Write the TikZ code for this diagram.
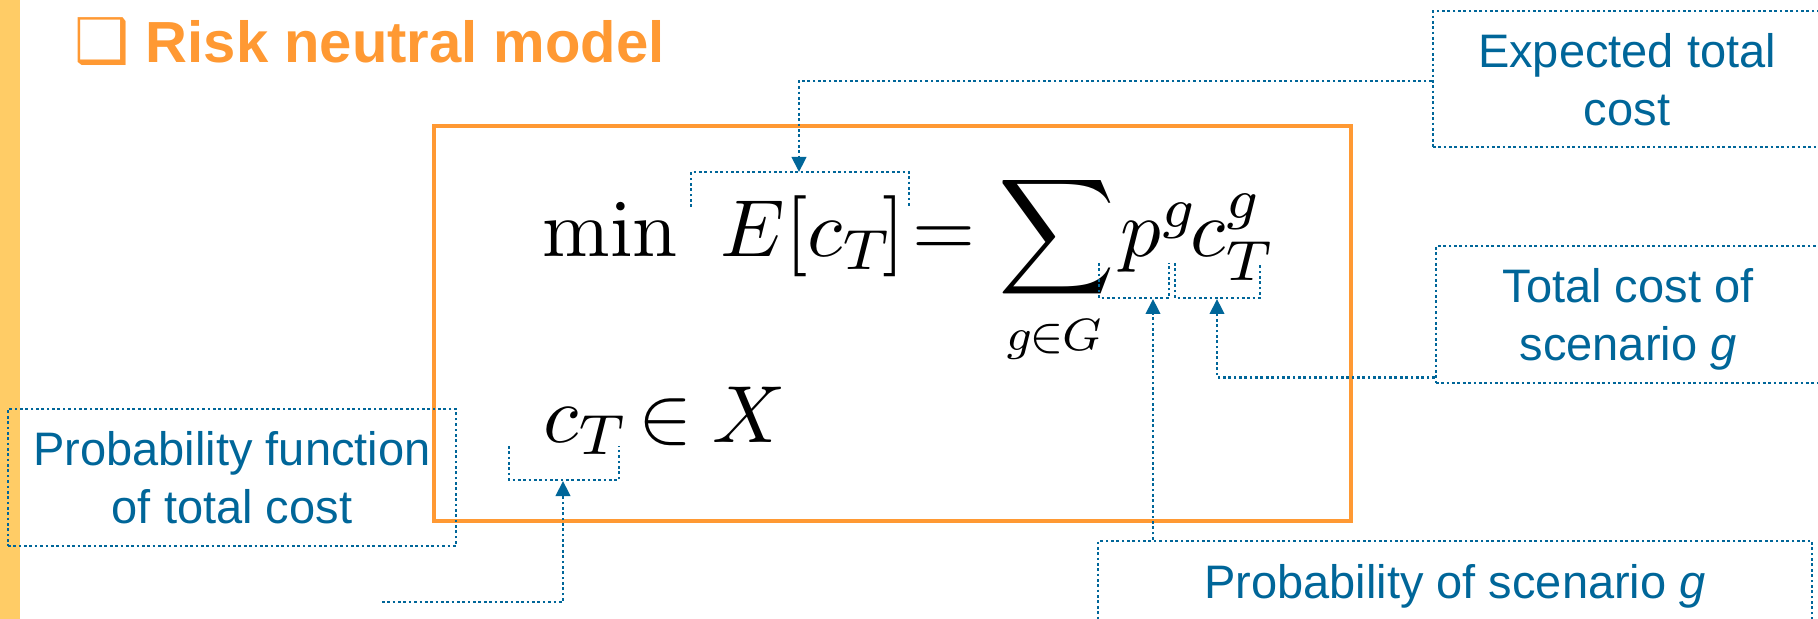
\documentclass[tikz,border=0pt]{standalone}
\usepackage{graphicx}
\usepackage[no-math]{fontspec}
\DeclareFontFamily{OT1}{cmr}{\hyphenchar\font45 }
\DeclareFontShape{OT1}{cmr}{m}{n}{<-12>cmr5 <12-18>cmr7 <18->cmr10}{}
\DeclareFontFamily{OML}{cmm}{\skewchar\font127 }
\DeclareFontShape{OML}{cmm}{m}{it}{<-12>cmmi5 <12-18>cmmi7 <18->cmmi10}{}
\DeclareFontFamily{OMS}{cmsy}{\skewchar\font48 }
\DeclareFontShape{OMS}{cmsy}{m}{n}{<-12>cmsy5 <12-18>cmsy7 <18->cmsy10}{}
\DeclareFontFamily{OMX}{cmex}{}
\DeclareFontShape{OMX}{cmex}{m}{n}{<->cmex10}{}
\usetikzlibrary{arrows.meta}
\definecolor{orangec}{RGB}{255,153,51}
\definecolor{bluec}{RGB}{0,102,153}
\definecolor{yellowc}{RGB}{255,204,102}
\newfontfamily\arialf{Liberation Sans}
\newfontfamily\dejavuf{DejaVu Sans}
\tikzset{
  dotline/.style={draw=bluec, line width=0.67pt, dash pattern=on 0.67pt off 0.67pt},
  arr/.style={dotline, -{Triangle[length=3.75pt,width=3.6pt]}},
  note/.style={dotline, text=bluec, align=center, inner sep=0pt, text depth=0pt,
    font=\arialf\fontsize{11.75pt}{14.5pt}\selectfont},
  mth/.style={inner sep=0pt, anchor=base west, font=\fontsize{20.25pt}{24pt}\selectfont},
  titlestyle/.style={inner sep=0pt, anchor=base west, text=orangec,
    font=\arialf\bfseries\fontsize{14.5pt}{17pt}\selectfont},
}
\begin{document}
\begin{tikzpicture}[x=0.25pt,y=-0.25pt]
\useasboundingbox (0,0) rectangle (1818,619);
\fill[yellowc] (0,0) rectangle (20,619);

% title
\node[titlestyle] (title) at (74,63)
  {\makebox[17.75pt][l]{\dejavuf\fontsize{15.4pt}{16pt}\selectfont ❑}Risk neutral model};

% frame
\node[draw=orangec, line width=0.9pt, minimum width=229.25pt, minimum height=98.75pt,
  inner sep=0pt] (frame) at (892.5,323.5) {};

% formula
\node[mth] (min) at (542,257) {$\min$};
\node[mth] (Ec) at (720,257) {$E[c_T\mkern-2mu]$};
\node[mth] (eq) at (912,257) {$=$};
\node[mth] (sum) at (998,257)
  {$\displaystyle\sum_{\scalebox{0.8}{$\scriptstyle g\mkern-1mu\in\mkern-1mu G$}}$};
\node[mth] (pg) at (1120,257) {$p^g$};
\node[mth] (cg) at (1190,257) {$c_T^g$};
\node[mth] (c2) at (543,442) {$c_T$};
\node[mth] (in) at (638,442) {$\in$};
\node[mth] (X) at (712,442) {$X$};

% notes
\node[note, minimum width=97pt, minimum height=34pt] (exp) at (1627,79)
  {Expected total\\cost};
\node[note, minimum width=96pt, minimum height=34.25pt] (tot) at (1628,314.5)
  {Total cost of\\scenario \textit{g}};
\node[note, minimum width=112pt, minimum height=34.25pt] (pfn) at (232,477.5)
  {Probability function\\of total cost};
\node[note, anchor=base, minimum width=178.5pt, text height=14.25pt, text depth=40pt]
  (ps) at (1455,598) {Probability of scenario \textit{g}};

% brackets
\draw[dotline] (691,207) -- (691,172) -- (909,172) -- (909,207);
\draw[dotline] (1099,263) -- (1099,298) -- (1169,298) -- (1169,263);
\draw[dotline] (1175,263) -- (1175,298) -- (1260,298) -- (1260,263);
\draw[dotline] (509,446) -- (509,480) -- (619,480) -- (619,446);
\coordinate (bE) at (799,172);
\coordinate (bP) at (1153,299);
\coordinate (bC) at (1217,299);
\coordinate (bc) at (563,481);
\coordinate (free) at (382,602);

% connectors
\draw[arr] ([yshift=-0.5pt]exp.west) -| (bE);
\draw[arr] ([yshift=1.75pt]tot.south west) -| (bC);
\draw[arr] (bP |- ps.north) -- (bP);
\draw[arr] (free) -| (bc);
\end{tikzpicture}
\end{document}
